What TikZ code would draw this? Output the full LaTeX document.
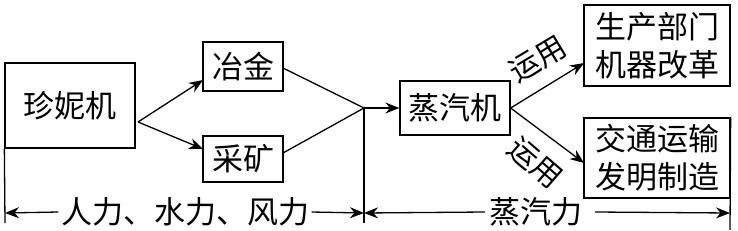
\documentclass[tikz,border=0pt]{standalone}
\usepackage{fontspec}
\setmainfont{Noto Sans CJK SC}
\usetikzlibrary{arrows.meta}
\begin{document}
\begin{tikzpicture}[x=1pt,y=-1pt,
  line width=1.3pt,
  every node/.style={font=\fontsize{31}{38}\selectfont, inner sep=0pt},
  box/.style={draw, rectangle, align=center},
  arr/.style={-{Stealth[length=14pt,width=11pt]}},
  lbl/.style={font=\fontsize{30}{36}\selectfont}]
\useasboundingbox (0,0) rectangle (738,230);
% boxes
\node[box, minimum width=130pt, minimum height=85pt] (zn) at (70,105.5) {珍妮机};
\node[box, minimum width=80pt, minimum height=49pt] (yj) at (243,66.5) {冶金};
\node[box, minimum width=80pt, minimum height=46pt] (ck) at (243,159) {采矿};
\node[box, minimum width=110pt, minimum height=54pt] (zq) at (455,108) {蒸汽机};
\node[box, minimum width=146pt, minimum height=81pt] (sc) at (657,45.5) {生产部门\\机器改革};
\node[box, minimum width=146pt, minimum height=80pt] (jt) at (657,158) {交通运输\\发明制造};
% anchor points
\coordinate (zout) at (138,122);
\coordinate (yjin) at (203,80);
\coordinate (ckin) at (203,149);
\coordinate (yjout) at (283,68);
\coordinate (ckout) at (283,153);
\coordinate (j) at (364,108);
\coordinate (jb) at (364,223);
\coordinate (zb) at (5,223);
\coordinate (scin) at (584,63);
\coordinate (jtin) at (584,163);
\coordinate (jtb) at (730,230);
\coordinate (la) at (5,213);
\coordinate (ra) at (364,213);
\coordinate (rb) at (730,213);
% connectors
\draw[arr] (zout) -- (yjin);
\draw[arr] (zout) -- (ckin);
\draw (yjout) -- (j) -- (ckout);
\draw[arr] (j) -- (zq.west);
\draw (j) -- (jb);
\draw (zn.south west) -- (zb);
\draw (jt.north east) -- (jtb);
\draw[arr] (zq.east) -- (scin);
\draw[arr] (zq.east) -- (jtin);
\node[lbl, rotate=31] (l1) at (538,59) {运用};
\node[lbl, rotate=-41] (l2) at (535,163) {运用};
% bottom spans
\node[inner xsep=2pt] (t1) at (185,212) {人力、水力、风力};
\node[inner xsep=4pt] (t2) at (536,212) {蒸汽力};
\draw[arr] (t1.west) -- (la);
\draw[arr] (t1.east) -- (ra);
\draw[arr] (t2.west) -- (ra);
\draw[arr] ([xshift=8pt]t2.east) -- (rb);
\end{tikzpicture}
\end{document}
